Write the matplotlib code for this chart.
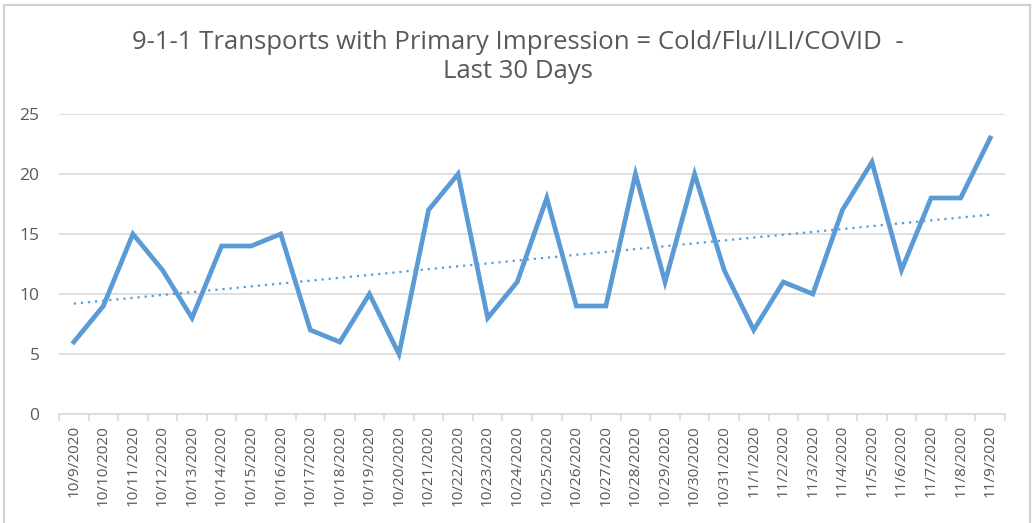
import numpy as np
import matplotlib.pyplot as plt
from matplotlib.patches import Rectangle

# ── data ──────────────────────────────────────────────────────────────
dates = ["10/9/2020", "10/10/2020", "10/11/2020", "10/12/2020", "10/13/2020",
         "10/14/2020", "10/15/2020", "10/16/2020", "10/17/2020", "10/18/2020",
         "10/19/2020", "10/20/2020", "10/21/2020", "10/22/2020", "10/23/2020",
         "10/24/2020", "10/25/2020", "10/26/2020", "10/27/2020", "10/28/2020",
         "10/29/2020", "10/30/2020", "10/31/2020", "11/1/2020", "11/2/2020",
         "11/3/2020", "11/4/2020", "11/5/2020", "11/6/2020", "11/7/2020",
         "11/8/2020", "11/9/2020"]
transports = [6, 9, 15, 12, 8, 14, 14, 15, 7, 6, 10, 5, 17, 20, 8, 11,
              18, 9, 9, 20, 11, 20, 12, 7, 11, 10, 17, 21, 12, 18, 18, 23]
y_ticks = [0, 5, 10, 15, 20, 25]

TITLE = "9-1-1 Transports with Primary Impression = Cold/Flu/ILI/COVID  -\nLast 30 Days"
BLUE = "#5b9bd5"
GREY_TXT = "#595959"
GRID = "#d9d9d9"

plt.rcParams["font.family"] = ["Open Sans", "DejaVu Sans"]

fig = plt.figure(figsize=(10.36, 5.23), dpi=100)
# chart frame (Excel-style border)
fig.patches.append(Rectangle((4 / 1036, -0.05), 1026 / 1036, 1.05 - 5 / 523,
                             transform=fig.transFigure, fill=False,
                             edgecolor="#d0d0d0", lw=1.5))

ax = fig.add_axes([59 / 1036, 1 - 414 / 523, 946 / 1036, 300 / 523])

x = np.arange(len(dates))
ax.plot(x, transports, color=BLUE, lw=3.4, solid_joinstyle="miter", zorder=3)

# linear trendline
k, b = np.polyfit(x, transports, 1)
ax.plot(x, k * x + b, color=BLUE, lw=1.6, linestyle=(0, (1, 2.2)), zorder=2)

ax.set_xlim(-0.5, len(dates) - 0.5)
ax.set_ylim(0, 25)
ax.set_yticks(y_ticks)
ax.grid(axis="y", color=GRID, lw=1.2)
ax.set_axisbelow(True)

ax.set_xticks(x)
ax.set_xticklabels(dates, rotation=90)
ax.set_xticks(np.arange(len(dates) + 1) - 0.5, minor=True)
ax.tick_params(axis="x", which="major", length=0, pad=8, labelsize=11, colors=GREY_TXT)
ax.tick_params(axis="x", which="minor", length=5, color=GRID, width=1.2)
ax.tick_params(axis="y", length=0, pad=14, labelsize=12.5, colors=GREY_TXT)

for s in ["top", "right", "left"]:
    ax.spines[s].set_visible(False)
ax.spines["bottom"].set_color(GRID)
ax.spines["bottom"].set_linewidth(1.2)

fig.text(0.5, 1 - 57 / 523, TITLE, ha="center", va="center", fontsize=18.5,
         color=GREY_TXT, linespacing=1.2)

fig.savefig("out.png", dpi=100)
